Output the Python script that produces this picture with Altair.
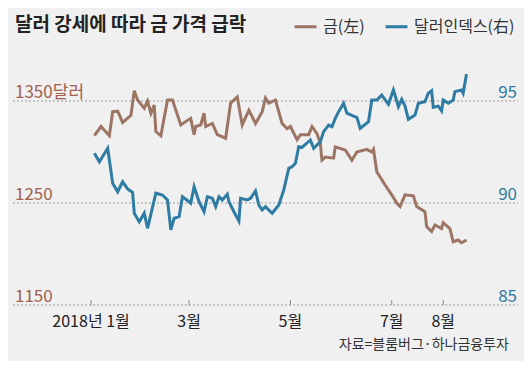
import altair as alt
import pandas as pd

# ---------------- data ----------------
gold_dates = [
    "2018-01-03", "2018-01-07", "2018-01-12", "2018-01-14", "2018-01-17", "2018-01-20",
    "2018-01-25", "2018-01-27", "2018-01-29", "2018-02-02", "2018-02-04", "2018-02-06",
    "2018-02-08", "2018-02-09", "2018-02-12", "2018-02-16", "2018-02-19", "2018-02-24",
    "2018-02-28", "2018-03-02", "2018-03-04", "2018-03-05", "2018-03-08", "2018-03-10",
    "2018-03-11", "2018-03-15", "2018-03-18", "2018-03-23", "2018-03-26", "2018-03-30",
    "2018-04-02", "2018-04-06", "2018-04-10", "2018-04-14", "2018-04-16", "2018-04-18",
    "2018-04-22", "2018-04-26", "2018-04-29", "2018-05-01", "2018-05-05", "2018-05-07",
    "2018-05-12", "2018-05-14", "2018-05-17", "2018-05-19", "2018-05-20", "2018-05-22",
    "2018-05-27", "2018-05-28", "2018-06-03", "2018-06-07", "2018-06-10", "2018-06-16",
    "2018-06-19", "2018-06-20", "2018-06-22", "2018-06-27", "2018-07-01", "2018-07-04",
    "2018-07-06", "2018-07-09", "2018-07-14", "2018-07-16", "2018-07-21", "2018-07-22",
    "2018-07-25", "2018-07-27", "2018-07-31", "2018-08-01", "2018-08-05", "2018-08-07",
    "2018-08-10", "2018-08-12", "2018-08-15",
]
gold_values = [
    1316, 1325, 1316, 1339.5, 1340, 1329,
    1336, 1360, 1351, 1343, 1350, 1338,
    1346, 1320, 1316, 1351, 1351, 1326.5,
    1331, 1333, 1317, 1325, 1326.5, 1338,
    1325, 1328, 1317, 1313.5, 1348, 1354,
    1326.5, 1341, 1328, 1339.5, 1353, 1348,
    1351, 1328, 1323, 1325, 1312, 1317,
    1317, 1325, 1318, 1308.5, 1292, 1295,
    1294, 1305, 1302, 1292, 1300, 1302.6,
    1300, 1302.6, 1280.7, 1267.6, 1258, 1250,
    1246.5, 1258, 1257, 1246.5, 1241.5, 1227,
    1222, 1228.5, 1225, 1230.7, 1225, 1212,
    1213.7, 1211, 1213.7,
]

dxy_dates = [
    "2018-01-03", "2018-01-06", "2018-01-11", "2018-01-14", "2018-01-17", "2018-01-20",
    "2018-01-23", "2018-01-26", "2018-01-27", "2018-01-30", "2018-02-02", "2018-02-04",
    "2018-02-09", "2018-02-13", "2018-02-16", "2018-02-18", "2018-02-20", "2018-02-23",
    "2018-02-25", "2018-03-01", "2018-03-02", "2018-03-04", "2018-03-07", "2018-03-10",
    "2018-03-12", "2018-03-15", "2018-03-17", "2018-03-19", "2018-03-21", "2018-03-24",
    "2018-03-25", "2018-03-28", "2018-03-31", "2018-04-01", "2018-04-05", "2018-04-07",
    "2018-04-10", "2018-04-12", "2018-04-14", "2018-04-16", "2018-04-20", "2018-04-24",
    "2018-04-27", "2018-04-30", "2018-05-02", "2018-05-04", "2018-05-06", "2018-05-08",
    "2018-05-13", "2018-05-15", "2018-05-19", "2018-05-21", "2018-05-24", "2018-05-26",
    "2018-05-28", "2018-05-30", "2018-06-02", "2018-06-04", "2018-06-08", "2018-06-10",
    "2018-06-12", "2018-06-17", "2018-06-19", "2018-06-22", "2018-06-25", "2018-06-29",
    "2018-07-02", "2018-07-05", "2018-07-07", "2018-07-09", "2018-07-11", "2018-07-15",
    "2018-07-17", "2018-07-21", "2018-07-23", "2018-07-25", "2018-07-26", "2018-07-29",
    "2018-07-31", "2018-08-01", "2018-08-04", "2018-08-07", "2018-08-08", "2018-08-12",
    "2018-08-13", "2018-08-15",
]
dxy_values = [
    92.44, 92.02, 92.68, 90.97, 90.55, 91.04,
    90.69, 90.52, 89.50, 89.08, 89.50, 88.76,
    90.48, 90.39, 90.15, 88.68, 89.25, 89.33,
    90.31, 90.06, 89.99, 90.80, 90.06, 89.57,
    90.31, 90.23, 89.82, 90.31, 90.15, 90.43,
    90.06, 89.57, 89.12, 90.23, 90.15, 90.23,
    90.59, 89.90, 89.66, 89.82, 89.50, 89.90,
    90.64, 91.70, 91.78, 91.95, 92.76, 92.73,
    93.09, 92.68, 93.00, 93.50, 93.82, 93.74,
    94.15, 94.48, 94.89, 94.40, 94.26, 94.20,
    93.66, 93.99, 95.05, 95.05, 95.29, 94.84,
    95.54, 94.72, 95.08, 94.75, 94.10, 94.31,
    94.89, 94.97, 95.38, 95.50, 94.69, 94.75,
    94.52, 95.05, 94.89, 95.05, 95.46, 95.54,
    95.38, 96.32,
]

series_names = ["금(左)", "달러인덱스(右)"]
gold_ticks = [1150, 1250, 1350]
gold_tick_labels = ["1150", "1250", "1350달러"]
dxy_ticks = [85, 90, 95]
dxy_tick_labels = ["85", "90", "95"]
month_ticks = ["2018-01-01", "2018-03-01", "2018-05-01", "2018-07-01", "2018-08-01"]
month_labels = ["2018년 1월", "3월", "5월", "7월", "8월"]
title_text = ["달러 강세에 따라 금 가격 급락"]
source_text = ["자료=블룸버그·하나금융투자"]

# ---------------- style ----------------
GOLD = "#9c7565"
BLUE = "#2e7ba3"
GOLD_LABEL = "#a0604f"
BG = "#f0f0f0"
FONT = "Noto Sans CJK KR"
NUM_FONT = "Liberation Sans Narrow, Noto Sans CJK KR"
W, H = 505, 245

gold_df = pd.DataFrame({"date": gold_dates, "value": gold_values, "series": series_names[0]})
dxy_df = pd.DataFrame({"date": dxy_dates, "value": dxy_values, "series": series_names[1]})
gtick_df = pd.DataFrame({"v": gold_ticks, "label": gold_tick_labels})
dtick_df = pd.DataFrame({"v": dxy_ticks, "label": dxy_tick_labels})
month_df = pd.DataFrame({"date": month_ticks, "label": month_labels})
src_df = pd.DataFrame({"label": source_text})
title_df = pd.DataFrame({"label": title_text})

x_scale = alt.Scale(domain=[alt.DateTime(year=2017, month=11, date=15),
                            alt.DateTime(year=2018, month=9, date=15)])
gold_scale = alt.Scale(domain=[1150, 1390.2], nice=False, zero=False)
dxy_scale = alt.Scale(domain=[85, 97.01], nice=False, zero=False)
color_scale = alt.Scale(domain=series_names, range=[GOLD, BLUE])

legend = alt.Legend(
    orient="none", legendX=280, legendY=-46, direction="horizontal", title=None,
    symbolType="stroke", symbolStrokeWidth=3, symbolSize=480,
    labelFontSize=16, labelFont=FONT, labelColor="#333333", labelOffset=5,
    columnPadding=14,
)

title = alt.Chart(title_df).mark_text(
    align="left", baseline="alphabetic", fontSize=19, fontWeight="bold", font=FONT, color="#222222"
).encode(x=alt.value(2), y=alt.value(-29), text="label:N")

grid = alt.Chart(gtick_df).mark_rule(color="#9a9a9a", strokeDash=[2, 2], strokeWidth=1).encode(
    y=alt.Y("v:Q", scale=gold_scale, axis=None),
    x=alt.value(0), x2=alt.value(W),
)
gold_text = alt.Chart(gtick_df).mark_text(
    align="left", baseline="alphabetic", dy=-3, fontSize=17, font=NUM_FONT, color=GOLD_LABEL
).encode(
    y=alt.Y("v:Q", scale=gold_scale, axis=None),
    x=alt.value(2), text="label:N",
)
gold_line = alt.Chart(gold_df).mark_line(strokeWidth=3).encode(
    x=alt.X("date:T", scale=x_scale, axis=None),
    y=alt.Y("value:Q", scale=gold_scale, axis=None),
    color=alt.Color("series:N", scale=color_scale, legend=legend),
)
month_tick = alt.Chart(month_df).mark_rule(color="#888888", strokeWidth=1).encode(
    x=alt.X("date:T", scale=x_scale, axis=None),
    y=alt.value(H - 5), y2=alt.value(H),
)
month_text = alt.Chart(month_df).mark_text(
    baseline="top", fontSize=16, font=NUM_FONT, color="#222222"
).encode(
    x=alt.X("date:T", scale=x_scale, axis=None),
    y=alt.value(H + 9), text="label:N",
)
src = alt.Chart(src_df).mark_text(
    align="right", baseline="middle", fontSize=14, font=FONT, color="#333333"
).encode(x=alt.value(W - 9), y=alt.value(H + 40), text="label:N")

dxy_line = alt.Chart(dxy_df).mark_line(strokeWidth=3).encode(
    x=alt.X("date:T", scale=x_scale, axis=None),
    y=alt.Y("value:Q", scale=dxy_scale, axis=None),
    color=alt.Color("series:N", scale=color_scale, legend=legend),
)
dxy_text = alt.Chart(dtick_df).mark_text(
    align="right", baseline="alphabetic", dy=-3, fontSize=17, font=NUM_FONT, color=BLUE
).encode(
    y=alt.Y("v:Q", scale=dxy_scale, axis=None),
    x=alt.value(W - 1), text="label:N",
)

gold_group = alt.layer(title, grid, gold_text, month_tick, month_text, src, gold_line)
dxy_group = alt.layer(dxy_line, dxy_text)

chart = alt.layer(gold_group, dxy_group).resolve_scale(y="independent").properties(
    width=W, height=H,
    autosize=alt.AutoSizeParams(type="none"),
    padding={"left": 5, "top": 52, "right": 6, "bottom": 56},
    background=BG,
).configure_view(stroke=None)

chart.save("out.html", embed_options={"renderer": "svg", "actions": False})
